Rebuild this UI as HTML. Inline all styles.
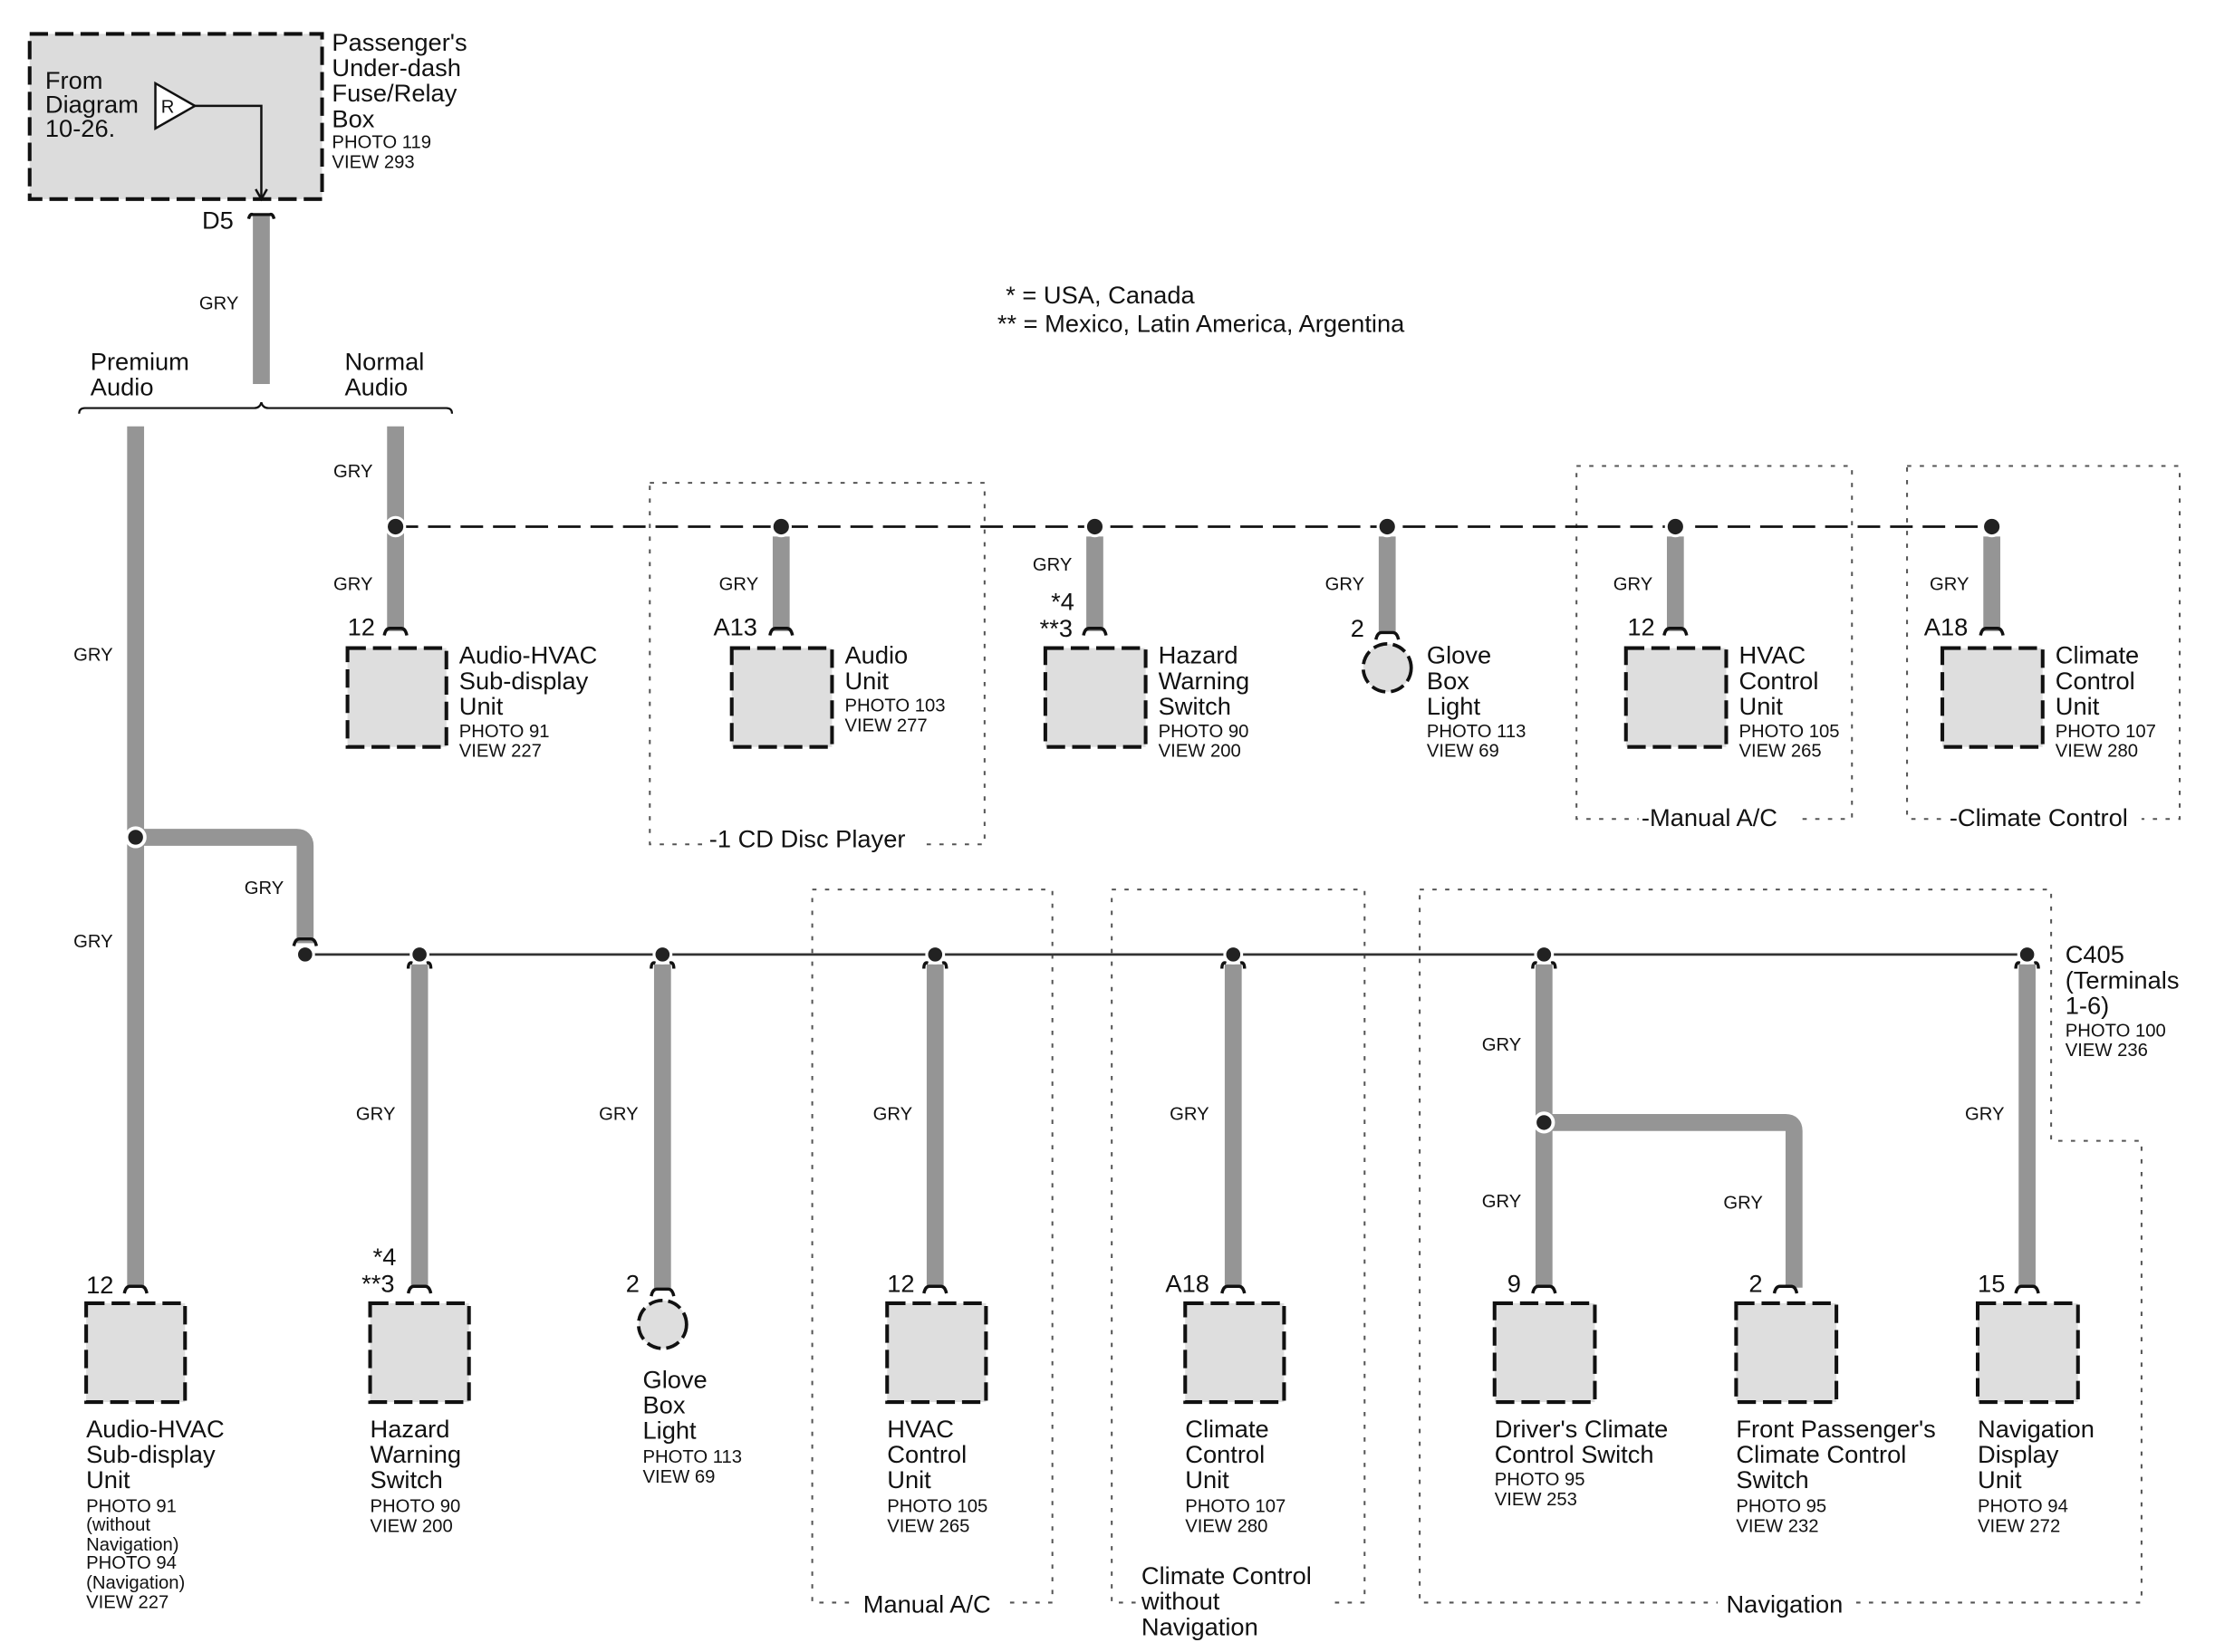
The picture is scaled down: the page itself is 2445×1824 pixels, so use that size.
<!DOCTYPE html>
<html><head><meta charset="utf-8"><style>
html,body{margin:0;padding:0;background:#fff;width:2445px;height:1824px;overflow:hidden}
svg{display:block}
text{font-family:"Liberation Sans",Arial,sans-serif;fill:#111}
.L{font-size:17.5px}
.S{font-size:13px}
.G{font-size:13px}
.w{stroke:#959595;stroke-width:12;fill:none}
.bx{fill:#dedede;stroke:#111;stroke-width:2.6;stroke-dasharray:13,5}
.dot{fill:none;stroke:#555;stroke-width:1.3;stroke-dasharray:3,6}
.cap{fill:none;stroke:#111;stroke-width:2.2}
</style></head><body>
<svg width="2445" height="1824" viewBox="0 0 1568 1170" preserveAspectRatio="none" xmlns="http://www.w3.org/2000/svg">
<rect x="21" y="24" width="207" height="117" fill="#dcdcdc" stroke="#111" stroke-width="2.6" stroke-dasharray="13,5"/>
<text class="L" x="32" y="63">From</text><text class="L" x="32" y="80">Diagram</text><text class="L" x="32" y="97">10-26.</text>
<polygon points="110,59 110,91 138,75" fill="#fff" stroke="#111" stroke-width="1.6"/>
<text class="S" x="114" y="80">R</text>
<polyline points="138,75 185,75 185,141" fill="none" stroke="#111" stroke-width="1.6"/>
<polyline points="181,134 185,141 189,134" fill="none" stroke="#111" stroke-width="1.6"/>
<text class="L" x="235" y="36">Passenger's</text><text class="L" x="235" y="54">Under-dash</text><text class="L" x="235" y="72">Fuse/Relay</text><text class="L" x="235" y="90">Box</text>
<text class="S" x="235" y="105">PHOTO 119</text><text class="S" x="235" y="119">VIEW 293</text>
<path class="cap" d="M176,155 q1,-4 3,-3 h12 q2,-1 3,3"/>
<text class="L" x="143" y="162">D5</text>
<line class="w" x1="185" y1="153" x2="185" y2="272"/>
<text class="G" x="141" y="219">GRY</text>
<text class="L" x="64" y="262">Premium</text><text class="L" x="64" y="280">Audio</text>
<text class="L" x="244" y="262">Normal</text><text class="L" x="244" y="280">Audio</text>
<path d="M56,293 q0,-4 4,-4 h120 q4,0 5,-4 q1,4 5,4 h126 q4,0 4,4" fill="none" stroke="#111" stroke-width="1.4"/>
<text x="712" y="215" style="font-size:17.5px">*  =  USA, Canada</text>
<text x="706" y="235" style="font-size:17.5px">** = Mexico, Latin America, Argentina</text>

<rect class="dot" x="460" y="342" width="237" height="256"/>
<rect class="dot" x="1116" y="330" width="195" height="250"/>
<rect class="dot" x="1350" y="330" width="193" height="250"/>
<rect class="dot" x="575" y="630" width="170" height="505"/>
<rect class="dot" x="787" y="630" width="179" height="505"/>
<path class="dot" d="M1005,630 H1452 V808 H1516 V1135 H1005 Z"/>
<rect x="498" y="583" width="155" height="22" fill="#fff"/><text class="L" x="502" y="600">-1 CD Disc Player</text>
<rect x="1160" y="568" width="114" height="22" fill="#fff"/><text class="L" x="1162" y="585">-Manual A/C</text>
<rect x="1378" y="568" width="138" height="22" fill="#fff"/><text class="L" x="1380" y="585">-Climate Control</text>
<rect x="606" y="1125" width="106" height="22" fill="#fff"/><text class="L" x="611" y="1142">Manual A/C</text>
<rect x="804" y="1105" width="136" height="60" fill="#fff"/><text class="L" x="808" y="1122">Climate Control</text><text class="L" x="808" y="1140">without</text><text class="L" x="808" y="1158">Navigation</text>
<rect x="1216" y="1125" width="96" height="22" fill="#fff"/><text class="L" x="1222" y="1142">Navigation</text>

<line x1="280" y1="373" x2="1410" y2="373" stroke="#111" stroke-width="1.8" stroke-dasharray="16,7"/>
<line class="w" x1="280" y1="302" x2="280" y2="447"/>
<text class="G" x="236" y="338">GRY</text>
<line class="w" x1="553" y1="380" x2="553" y2="447"/>
<line class="w" x1="775" y1="380" x2="775" y2="447"/>
<line class="w" x1="982" y1="380" x2="982" y2="448"/>
<line class="w" x1="1186" y1="380" x2="1186" y2="447"/>
<line class="w" x1="1410" y1="380" x2="1410" y2="447"/>
<g fill="#222" stroke="#fff" stroke-width="2">
<circle cx="280" cy="373" r="6.5"/><circle cx="553" cy="373" r="6.5"/><circle cx="775" cy="373" r="6.5"/><circle cx="982" cy="373" r="6.5"/><circle cx="1186" cy="373" r="6.5"/><circle cx="1410" cy="373" r="6.5"/>
</g>
<g class="cap">
<path d="M272,450 q1,-5 4,-5 h8 q3,0 4,5"/><path d="M545,450 q1,-5 4,-5 h8 q3,0 4,5"/><path d="M767,450 q1,-5 4,-5 h8 q3,0 4,5"/><path d="M974,453 q1,-5 4,-5 h8 q3,0 4,5"/><path d="M1178,450 q1,-5 4,-5 h8 q3,0 4,5"/><path d="M1402,450 q1,-5 4,-5 h8 q3,0 4,5"/>
</g>
<text class="G" x="236" y="418">GRY</text><text class="G" x="509" y="418">GRY</text><text class="G" x="731" y="404">GRY</text><text class="G" x="938" y="418">GRY</text><text class="G" x="1142" y="418">GRY</text><text class="G" x="1366" y="418">GRY</text>
<text class="L" x="246" y="450">12</text><text class="L" x="505" y="450">A13</text><text class="L" x="744" y="432">*4</text><text class="L" x="736" y="451">**3</text><text class="L" x="956" y="451">2</text><text class="L" x="1152" y="450">12</text><text class="L" x="1362" y="450">A18</text>
<rect class="bx" x="246" y="459" width="70" height="70"/>
<rect class="bx" x="518" y="459" width="71" height="70"/>
<rect class="bx" x="740" y="459" width="71" height="70"/>
<circle cx="982" cy="473" r="17" fill="#dedede" stroke="#111" stroke-width="2.4" stroke-dasharray="10,4"/>
<rect class="bx" x="1151" y="459" width="71" height="70"/>
<rect class="bx" x="1375" y="459" width="71" height="70"/>
<text class="L" x="325" y="470">Audio-HVAC</text><text class="L" x="325" y="488">Sub-display</text><text class="L" x="325" y="506">Unit</text><text class="S" x="325" y="522">PHOTO 91</text><text class="S" x="325" y="536">VIEW 227</text>
<text class="L" x="598" y="470">Audio</text><text class="L" x="598" y="488">Unit</text><text class="S" x="598" y="504">PHOTO 103</text><text class="S" x="598" y="518">VIEW 277</text>
<text class="L" x="820" y="470">Hazard</text><text class="L" x="820" y="488">Warning</text><text class="L" x="820" y="506">Switch</text><text class="S" x="820" y="522">PHOTO 90</text><text class="S" x="820" y="536">VIEW 200</text>
<text class="L" x="1010" y="470">Glove</text><text class="L" x="1010" y="488">Box</text><text class="L" x="1010" y="506">Light</text><text class="S" x="1010" y="522">PHOTO 113</text><text class="S" x="1010" y="536">VIEW 69</text>
<text class="L" x="1231" y="470">HVAC</text><text class="L" x="1231" y="488">Control</text><text class="L" x="1231" y="506">Unit</text><text class="S" x="1231" y="522">PHOTO 105</text><text class="S" x="1231" y="536">VIEW 265</text>
<text class="L" x="1455" y="470">Climate</text><text class="L" x="1455" y="488">Control</text><text class="L" x="1455" y="506">Unit</text><text class="S" x="1455" y="522">PHOTO 107</text><text class="S" x="1455" y="536">VIEW 280</text>

<line class="w" x1="96" y1="302" x2="96" y2="912"/>
<path class="w" d="M96,593 H210 q6,0 6,6 V668"/>
<circle cx="96" cy="593" r="6.5" fill="#222" stroke="#fff" stroke-width="2.5"/>
<text class="G" x="52" y="468">GRY</text><text class="G" x="52" y="671">GRY</text><text class="G" x="173" y="633">GRY</text>
<path class="cap" d="M208,670 q1,-5 4,-5 h8 q3,0 4,5"/>
<line x1="216" y1="676" x2="1435" y2="676" stroke="#333" stroke-width="1.8"/>
<line class="w" x1="297" y1="683" x2="297" y2="912"/>
<line class="w" x1="469" y1="683" x2="469" y2="914"/>
<line class="w" x1="662" y1="683" x2="662" y2="912"/>
<line class="w" x1="873" y1="683" x2="873" y2="912"/>
<line class="w" x1="1093" y1="683" x2="1093" y2="912"/>
<line class="w" x1="1435" y1="683" x2="1435" y2="912"/>
<path class="w" d="M1093,795 H1264 q6,0 6,6 V912"/>
<g class="cap">
<path d="M289,686 q0,-5 3,-4 M305,686 q0,-5 -3,-4"/>
<path d="M461,686 q0,-5 3,-4 M477,686 q0,-5 -3,-4"/>
<path d="M654,686 q0,-5 3,-4 M670,686 q0,-5 -3,-4"/>
<path d="M865,686 q0,-5 3,-4 M881,686 q0,-5 -3,-4"/>
<path d="M1085,686 q0,-5 3,-4 M1101,686 q0,-5 -3,-4"/>
<path d="M1427,686 q0,-5 3,-4 M1443,686 q0,-5 -3,-4"/>
</g>
<g fill="#222" stroke="#fff" stroke-width="2">
<circle cx="216" cy="676" r="6"/><circle cx="297" cy="676" r="6"/><circle cx="469" cy="676" r="6"/><circle cx="662" cy="676" r="6"/><circle cx="873" cy="676" r="6"/><circle cx="1093" cy="676" r="6"/><circle cx="1435" cy="676" r="6"/>
</g>
<circle cx="1093" cy="795" r="6.5" fill="#222" stroke="#fff" stroke-width="2.5"/>
<text class="L" x="1462" y="682">C405</text><text class="L" x="1462" y="700">(Terminals</text><text class="L" x="1462" y="718">1-6)</text><text class="S" x="1462" y="734">PHOTO 100</text><text class="S" x="1462" y="748">VIEW 236</text>
<text class="G" x="252" y="793">GRY</text><text class="G" x="424" y="793">GRY</text><text class="G" x="618" y="793">GRY</text><text class="G" x="828" y="793">GRY</text><text class="G" x="1049" y="744">GRY</text><text class="G" x="1049" y="855">GRY</text><text class="G" x="1220" y="856">GRY</text><text class="G" x="1391" y="793">GRY</text>
<g class="cap">
<path d="M88,916 q1,-5 4,-5 h8 q3,0 4,5"/><path d="M289,916 q1,-5 4,-5 h8 q3,0 4,5"/><path d="M461,918 q1,-5 4,-5 h8 q3,0 4,5"/><path d="M654,916 q1,-5 4,-5 h8 q3,0 4,5"/><path d="M865,916 q1,-5 4,-5 h8 q3,0 4,5"/><path d="M1085,916 q1,-5 4,-5 h8 q3,0 4,5"/><path d="M1256,916 q1,-5 4,-5 h8 q3,0 4,5"/><path d="M1427,916 q1,-5 4,-5 h8 q3,0 4,5"/>
</g>
<text class="L" x="61" y="916">12</text><text class="L" x="264" y="896">*4</text><text class="L" x="256" y="915">**3</text><text class="L" x="443" y="915">2</text><text class="L" x="628" y="915">12</text><text class="L" x="825" y="915">A18</text><text class="L" x="1067" y="915">9</text><text class="L" x="1238" y="915">2</text><text class="L" x="1400" y="915">15</text>
<rect class="bx" x="61" y="923" width="70" height="70"/>
<rect class="bx" x="262" y="923" width="70" height="70"/>
<circle cx="469" cy="938" r="17" fill="#dedede" stroke="#111" stroke-width="2.4" stroke-dasharray="10,4"/>
<rect class="bx" x="628" y="923" width="70" height="70"/>
<rect class="bx" x="839" y="923" width="70" height="70"/>
<rect class="bx" x="1058" y="923" width="71" height="70"/>
<rect class="bx" x="1229" y="923" width="71" height="70"/>
<rect class="bx" x="1400" y="923" width="71" height="70"/>
<text class="L" x="61" y="1018">Audio-HVAC</text><text class="L" x="61" y="1036">Sub-display</text><text class="L" x="61" y="1054">Unit</text><text class="S" x="61" y="1071">PHOTO 91</text><text class="S" x="61" y="1084">(without</text><text class="S" x="61" y="1098">Navigation)</text><text class="S" x="61" y="1111">PHOTO 94</text><text class="S" x="61" y="1125">(Navigation)</text><text class="S" x="61" y="1139">VIEW 227</text>
<text class="L" x="262" y="1018">Hazard</text><text class="L" x="262" y="1036">Warning</text><text class="L" x="262" y="1054">Switch</text><text class="S" x="262" y="1071">PHOTO 90</text><text class="S" x="262" y="1085">VIEW 200</text>
<text class="L" x="455" y="983">Glove</text><text class="L" x="455" y="1001">Box</text><text class="L" x="455" y="1019">Light</text><text class="S" x="455" y="1036">PHOTO 113</text><text class="S" x="455" y="1050">VIEW 69</text>
<text class="L" x="628" y="1018">HVAC</text><text class="L" x="628" y="1036">Control</text><text class="L" x="628" y="1054">Unit</text><text class="S" x="628" y="1071">PHOTO 105</text><text class="S" x="628" y="1085">VIEW 265</text>
<text class="L" x="839" y="1018">Climate</text><text class="L" x="839" y="1036">Control</text><text class="L" x="839" y="1054">Unit</text><text class="S" x="839" y="1071">PHOTO 107</text><text class="S" x="839" y="1085">VIEW 280</text>
<text class="L" x="1058" y="1018">Driver's Climate</text><text class="L" x="1058" y="1036">Control Switch</text><text class="S" x="1058" y="1052">PHOTO 95</text><text class="S" x="1058" y="1066">VIEW 253</text>
<text class="L" x="1229" y="1018">Front Passenger's</text><text class="L" x="1229" y="1036">Climate Control</text><text class="L" x="1229" y="1054">Switch</text><text class="S" x="1229" y="1071">PHOTO 95</text><text class="S" x="1229" y="1085">VIEW 232</text>
<text class="L" x="1400" y="1018">Navigation</text><text class="L" x="1400" y="1036">Display</text><text class="L" x="1400" y="1054">Unit</text><text class="S" x="1400" y="1071">PHOTO 94</text><text class="S" x="1400" y="1085">VIEW 272</text>
</svg>
</body></html>
